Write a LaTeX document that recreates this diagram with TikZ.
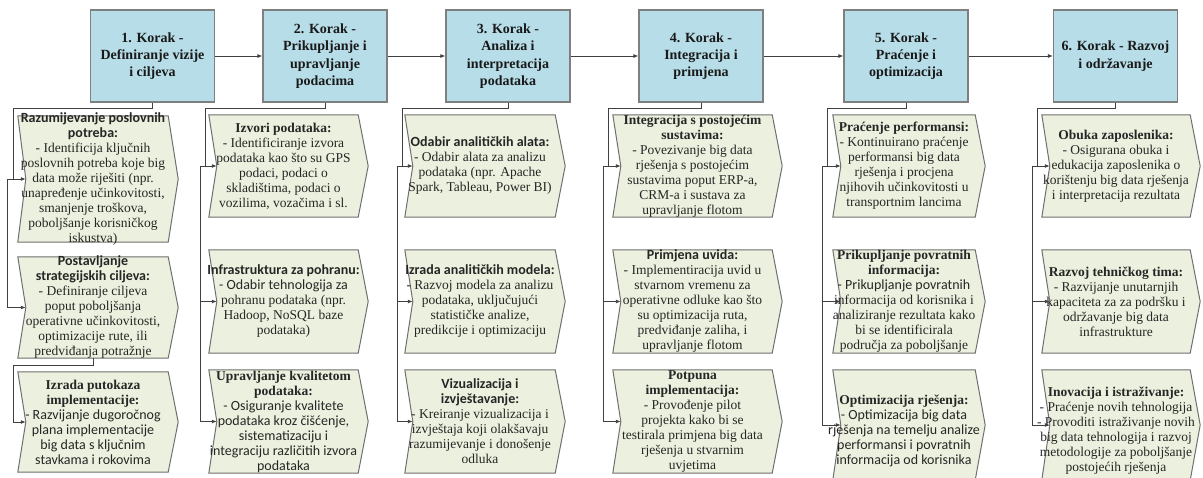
\documentclass[tikz,border=0pt]{standalone}
\usepackage{fontspec}
\setmainfont{Liberation Serif}
\newfontfamily\calfont{Carlito}
\usetikzlibrary{calc,arrows.meta}
\definecolor{hdrfill}{HTML}{B7DDE8}
\definecolor{hdrborder}{HTML}{7F7F7F}
\definecolor{boxfill}{HTML}{EBF1DE}
\definecolor{boxborder}{HTML}{6F6F6F}
\definecolor{linecol}{HTML}{404040}
\definecolor{txt}{HTML}{262626}
\tikzset{
  header/.style={draw=hdrborder, line width=1.2pt, fill=hdrfill, minimum width=124pt, minimum height=92pt, inner sep=0pt, align=center, font=\fontsize{14}{17.3}\selectfont\bfseries, text=black!90},
  chevshape/.style={draw=boxborder, line width=1pt, fill=boxfill},
  boxtext/.style={align=center, font=\fontsize{13.5}{15}\selectfont, text=txt, inner sep=0pt},
  conn/.style={draw=linecol, line width=0.9pt},
  arr/.style={conn, -{Latex[length=5pt,width=4pt]}},
}
\newcommand\chevbox[7]{%
  \node[inner sep=0pt, minimum width={(#3-#2)*1pt}, minimum height={(#5-#4)*1pt}] (#1) at ({(#2+#3)/2},{(#4+#5)/2}) {};
  \path[chevshape] (#1.north west) -- (#1.north east) -- ($(#1.east)+(10,0)$) -- (#1.south east) -- (#1.south west) -- ($(#1.west)+(8,0)$) -- cycle;
  \coordinate (#1-in) at ($(#1.west)+(8,0)$);
  \node[boxtext] (#1-t) at ($(#1.center)+(0,#6)$) {#7};
}
\newcommand\sfb[1]{{\calfont\fontsize{14}{15}\selectfont\bfseries #1}}
\newcommand\sfn[1]{{\calfont\fontsize{14}{15}\selectfont #1}}
\begin{document}
\begin{tikzpicture}[x=1pt,y=-1pt]
\useasboundingbox[fill=white] (0,0) rectangle (1203,477);
% headers
\node[header] (h1) at (152.5,56) {1. Korak -\\Definiranje vizije\\i ciljeva};
\node[header] (h2) at (325,56) {2. Korak -\\Prikupljanje i\\upravljanje\\podacima};
\node[header] (h3) at (508,56) {3. Korak -\\Analiza i\\interpretacija\\podataka};
\node[header] (h4) at (701,56) {4. Korak -\\Integracija i\\primjena};
\node[header] (h5) at (906,56) {5. Korak -\\Praćenje i\\optimizacija};
\node[header] (h6) at (1115.5,56) {6. Korak - Razvoj\\i održavanje};
\draw[arr] (h1.east) -- (h2.west);
\draw[arr] (h2.east) -- (h3.west);
\draw[arr] (h3.east) -- (h4.west);
\draw[arr] (h4.east) -- (h5.west);
\draw[arr] (h5.east) -- (h6.west);
% column 1
\chevbox{c1a}{18}{168}{116}{242}{0}{\sfb{Razumijevanje poslovnih}\\\sfb{potreba:}\\- Identificija ključnih\\poslovnih potreba koje big\\data može riješiti (npr.\\unapređenje učinkovitosti,\\smanjenje troškova,\\poboljšanje korisničkog\\iskustva)}
\chevbox{c1b}{18}{168}{257}{358}{0}{\sfb{Postavljanje}\\\sfb{strategijskih ciljeva:}\\- Definiranje ciljeva\\poput poboljšanja\\operativne učinkovitosti,\\optimizacije rute, ili\\predviđanja potražnje}
\chevbox{c1c}{18}{168}{372}{472}{0}{\textbf{Izrada putokaza}\\\textbf{implementacije:}\\\sfn{- Razvijanje dugoročnog}\\\sfn{plana implementacije}\\\sfn{big data s ključnim}\\\sfn{stavkama i rokovima}}
% column 2
\chevbox{c2a}{209}{358}{115}{217}{0}{\textbf{Izvori podataka:}\\- Identificiranje izvora\\podataka kao što su GPS\\podaci, podaci o\\skladištima, podaci o\\vozilima, vozačima i sl.}
\chevbox{c2b}{209}{358}{250}{353}{0}{\sfb{Infrastruktura za pohranu:}\\\sfn{- Odabir tehnologija za}\\pohranu podataka (npr.\\Hadoop, NoSQL baze\\podataka)}
\chevbox{c2c}{209}{358}{370}{473}{0}{\textbf{Upravljanje kvalitetom}\\\textbf{podataka:}\\\sfn{- Osiguranje kvalitete}\\\sfn{podataka kroz čišćenje,}\\\sfn{sistematizaciju i}\\\sfn{integraciju različitih izvora}\\\sfn{podataka}}
% column 3
\chevbox{c3a}{405}{555}{115}{217}{0}{\sfb{Odabir analitičkih alata:}\\- Odabir alata za analizu\\podataka (npr. Apache\\Spark, Tableau, Power BI)}
\chevbox{c3b}{405}{555}{250}{353}{0}{\sfb{Izrada analitičkih modela:}\\- Razvoj modela za analizu\\podataka, uključujući\\statističke analize,\\predikcije i optimizaciju}
\chevbox{c3c}{405}{555}{370}{473}{0}{\sfb{Vizualizacija i}\\\sfb{izvještavanje:}\\- Kreiranje vizualizacija i\\izvještaja koji olakšavaju\\razumijevanje i donošenje\\odluka}
% column 4
\chevbox{c4a}{613}{772}{115}{217}{0}{\textbf{Integracija s postojećim}\\\textbf{sustavima:}\\- Povezivanje big data\\rješenja s postojećim\\sustavima poput ERP-a,\\CRM-a i sustava za\\upravljanje flotom}
\chevbox{c4b}{613}{772}{250}{353}{0}{\sfb{Primjena uvida:}\\- Implementiracija uvid u\\stvarnom vremenu za\\operativne odluke kao što\\su optimizacija ruta,\\predviđanje zaliha, i\\upravljanje flotom}
\chevbox{c4c}{613}{772}{370}{473}{0}{\textbf{Potpuna}\\\textbf{implementacija:}\\- Provođenje pilot\\projekta kako bi se\\testirala primjena big data\\rješenja u stvarnim\\uvjetima}
% column 5
\chevbox{c5a}{833}{975}{115}{217}{0}{\textbf{Praćenje performansi:}\\- Kontinuirano praćenje\\performansi big data\\rješenja i procjena\\njihovih učinkovitosti u\\transportnim lancima}
\chevbox{c5b}{833}{975}{250}{353}{0}{\textbf{Prikupljanje povratnih}\\\textbf{informacija:}\\\sfn{- Prikupljanje povratnih}\\informacija od korisnika i\\analiziranje rezultata kako\\bi se identificirala\\područja za poboljšanje}
\chevbox{c5c}{833}{975}{370}{480}{6}{\textbf{Optimizacija rješenja:}\\\sfn{- Optimizacija big data}\\\sfn{rješenja na temelju analize}\\\sfn{performansi i povratnih}\\\sfn{informacija od korisnika}}
% column 6
\chevbox{c6a}{1042}{1190}{115}{217}{0}{\textbf{Obuka zaposlenika:}\\- Osigurana obuka i\\edukacija zaposlenika o\\korištenju big data rješenja\\i interpretacija rezultata}
\chevbox{c6b}{1042}{1190}{250}{353}{0}{\textbf{Razvoj tehničkog tima:}\\- Razvijanje unutarnjih\\kapaciteta za za podršku i\\održavanje big data\\infrastrukture}
\chevbox{c6c}{1042}{1190}{370}{480}{6}{\textbf{Inovacija i istraživanje:}\\- Praćenje novih tehnologija\\- Provoditi istraživanje novih\\big data tehnologija i razvoj\\metodologije za poboljšanje\\postojećih rješenja}
% connectors column 1
\coordinate (k1) at (13,108);
\coordinate (j1) at (7,108);
\coordinate (m1) at (13,365);
\draw[arr] (h1.south) |- (k1) |- (c1a-in);
\draw[arr] (h1.south) |- (k1) |- (c1a-in -| j1) |- (c1b-in);
\draw[arr] (c1b.south) |- (m1) |- (c1c-in);
% connectors columns 2-6
\foreach \i/\xa in {2/205,3/402,4/608,5/827,6/1037}{
  \coordinate (k\i) at (\xa,108);
  \coordinate (j\i) at (\xa-5,108);
  \draw[arr] (h\i.south) |- (k\i) |- (c\i a-in);
  \draw[arr] (h\i.south) |- (k\i) |- (c\i a-in -| j\i) |- (c\i b-in);
  \draw[arr] (h\i.south) |- (k\i) |- (c\i a-in -| j\i) |- (c\i c-in);
}
\end{tikzpicture}
\end{document}
